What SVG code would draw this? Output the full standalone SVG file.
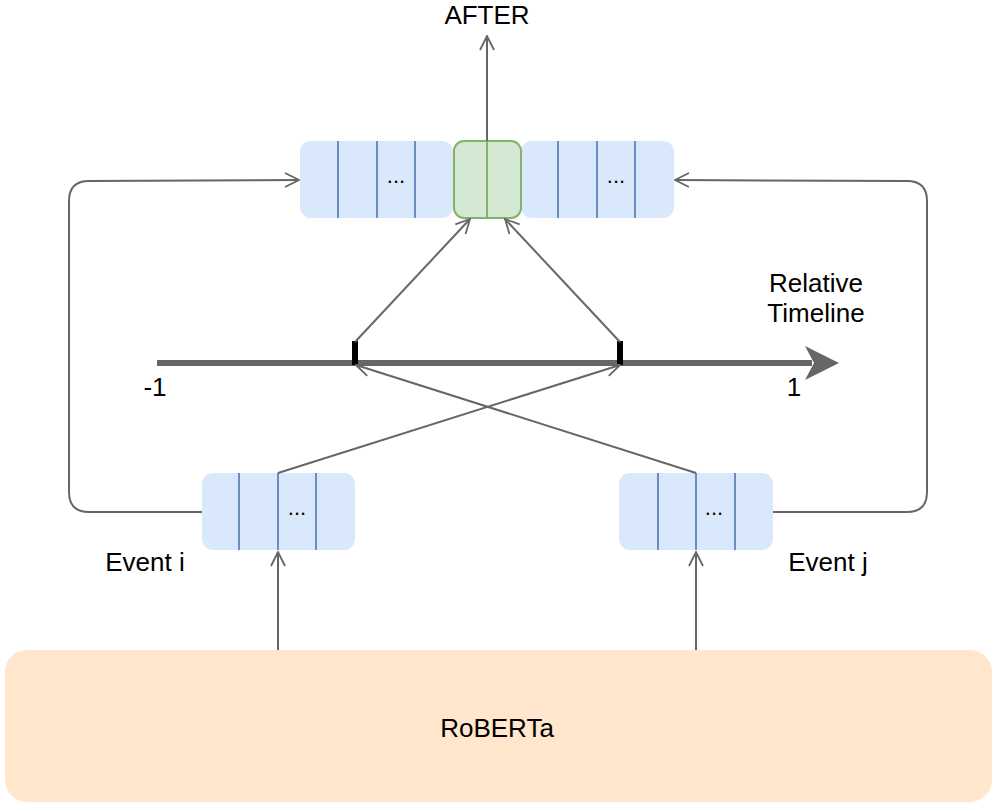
<svg xmlns="http://www.w3.org/2000/svg" width="994" height="806" viewBox="0 0 994 806">
<defs>
<marker id="openbig" viewBox="0 0 16 16" refX="15" refY="8" markerWidth="16" markerHeight="16" markerUnits="userSpaceOnUse" orient="auto">
<path d="M1,1 L15,8 L1,15" fill="none" stroke="#666666" stroke-width="1.8"/>
</marker>
</defs>
<style>
.txt{font-family:"Liberation Sans",Arial,sans-serif;fill:#000;}
.lbl{font-size:26px;}
.dots{font-size:22px;}
.blue{fill:#dae8fc;}
.div{stroke:#6c8ebf;stroke-width:2;fill:none;}
.green{fill:#d5e8d4;stroke:#82b366;stroke-width:2;}
.conn{fill:none;stroke:#666666;stroke-width:2;}
</style>
<rect width="994" height="806" fill="#ffffff"/>

<g id="roberta">
<rect x="5" y="650" width="987" height="152" rx="22" fill="#ffe6cc"/>
<text class="txt lbl" x="497" y="737" text-anchor="middle">RoBERTa</text>
</g>

<g id="top-left-vec">
<rect class="blue" x="300" y="141" width="153" height="77" rx="11"/>
<line class="div" x1="338" y1="141" x2="338" y2="218"/>
<line class="div" x1="377" y1="141" x2="377" y2="218"/>
<line class="div" x1="415" y1="141" x2="415" y2="218"/>
<text class="txt dots" x="396" y="183" text-anchor="middle">...</text>
</g>

<g id="top-right-vec">
<rect class="blue" x="521" y="141" width="153" height="77" rx="11"/>
<line class="div" x1="558" y1="141" x2="558" y2="218"/>
<line class="div" x1="597" y1="141" x2="597" y2="218"/>
<line class="div" x1="635" y1="141" x2="635" y2="218"/>
<text class="txt dots" x="616" y="183" text-anchor="middle">...</text>
</g>

<g id="green-vec">
<rect class="green" x="454" y="141" width="67" height="77" rx="10"/>
<line x1="487" y1="141" x2="487" y2="218" stroke="#82b366" stroke-width="2"/>
</g>

<g id="event-i">
<rect class="blue" x="202" y="473" width="153" height="77" rx="11"/>
<line class="div" x1="239" y1="473" x2="239" y2="550"/>
<line class="div" x1="278" y1="473" x2="278" y2="550"/>
<line class="div" x1="316" y1="473" x2="316" y2="550"/>
<text class="txt dots" x="297" y="515" text-anchor="middle">...</text>
</g>

<g id="event-j">
<rect class="blue" x="619" y="473" width="154" height="77" rx="11"/>
<line class="div" x1="658" y1="473" x2="658" y2="550"/>
<line class="div" x1="696" y1="473" x2="696" y2="550"/>
<line class="div" x1="735" y1="473" x2="735" y2="550"/>
<text class="txt dots" x="714" y="515" text-anchor="middle">...</text>
</g>

<g id="timeline">
<line x1="157" y1="363" x2="812" y2="363" stroke="#666666" stroke-width="6"/>
<path d="M839,363 L805,346 L814,363 L805,380 Z" fill="#666666"/>
<line x1="355" y1="341" x2="355" y2="365" stroke="#000" stroke-width="6"/>
<line x1="620" y1="341" x2="620" y2="365" stroke="#000" stroke-width="6"/>
</g>

<g id="labels">
<text class="txt lbl" x="487" y="24" text-anchor="middle">AFTER</text>
<text class="txt lbl" x="816" y="292" text-anchor="middle">Relative</text>
<text class="txt lbl" x="816" y="322" text-anchor="middle">Timeline</text>
<text class="txt lbl" x="155" y="396" text-anchor="middle">-1</text>
<text class="txt lbl" x="794" y="396" text-anchor="middle">1</text>
<text class="txt lbl" x="145" y="571" text-anchor="middle">Event i</text>
<text class="txt lbl" x="828" y="571" text-anchor="middle">Event j</text>
</g>

<g id="connectors">
<line class="conn" x1="487" y1="141" x2="487" y2="36" marker-end="url(#openbig)"/>
<path class="conn" d="M202,512 L89,512 Q69,512 69,492 L69,201 Q69,181 89,181 L299,180" marker-end="url(#openbig)"/>
<path class="conn" d="M773,512 L907,512 Q927,512 927,492 L927,201 Q927,181 907,181 L675,180" marker-end="url(#openbig)"/>
<line class="conn" x1="355" y1="342" x2="470" y2="219" marker-end="url(#openbig)"/>
<line class="conn" x1="620" y1="342" x2="505" y2="219" marker-end="url(#openbig)"/>
<line class="conn" x1="278" y1="473" x2="620" y2="365" marker-end="url(#openbig)"/>
<line class="conn" x1="696" y1="473" x2="356" y2="365" marker-end="url(#openbig)"/>
<line class="conn" x1="278" y1="650" x2="278" y2="552" marker-end="url(#openbig)"/>
<line class="conn" x1="696" y1="650" x2="696" y2="552" marker-end="url(#openbig)"/>
</g>
</svg>
